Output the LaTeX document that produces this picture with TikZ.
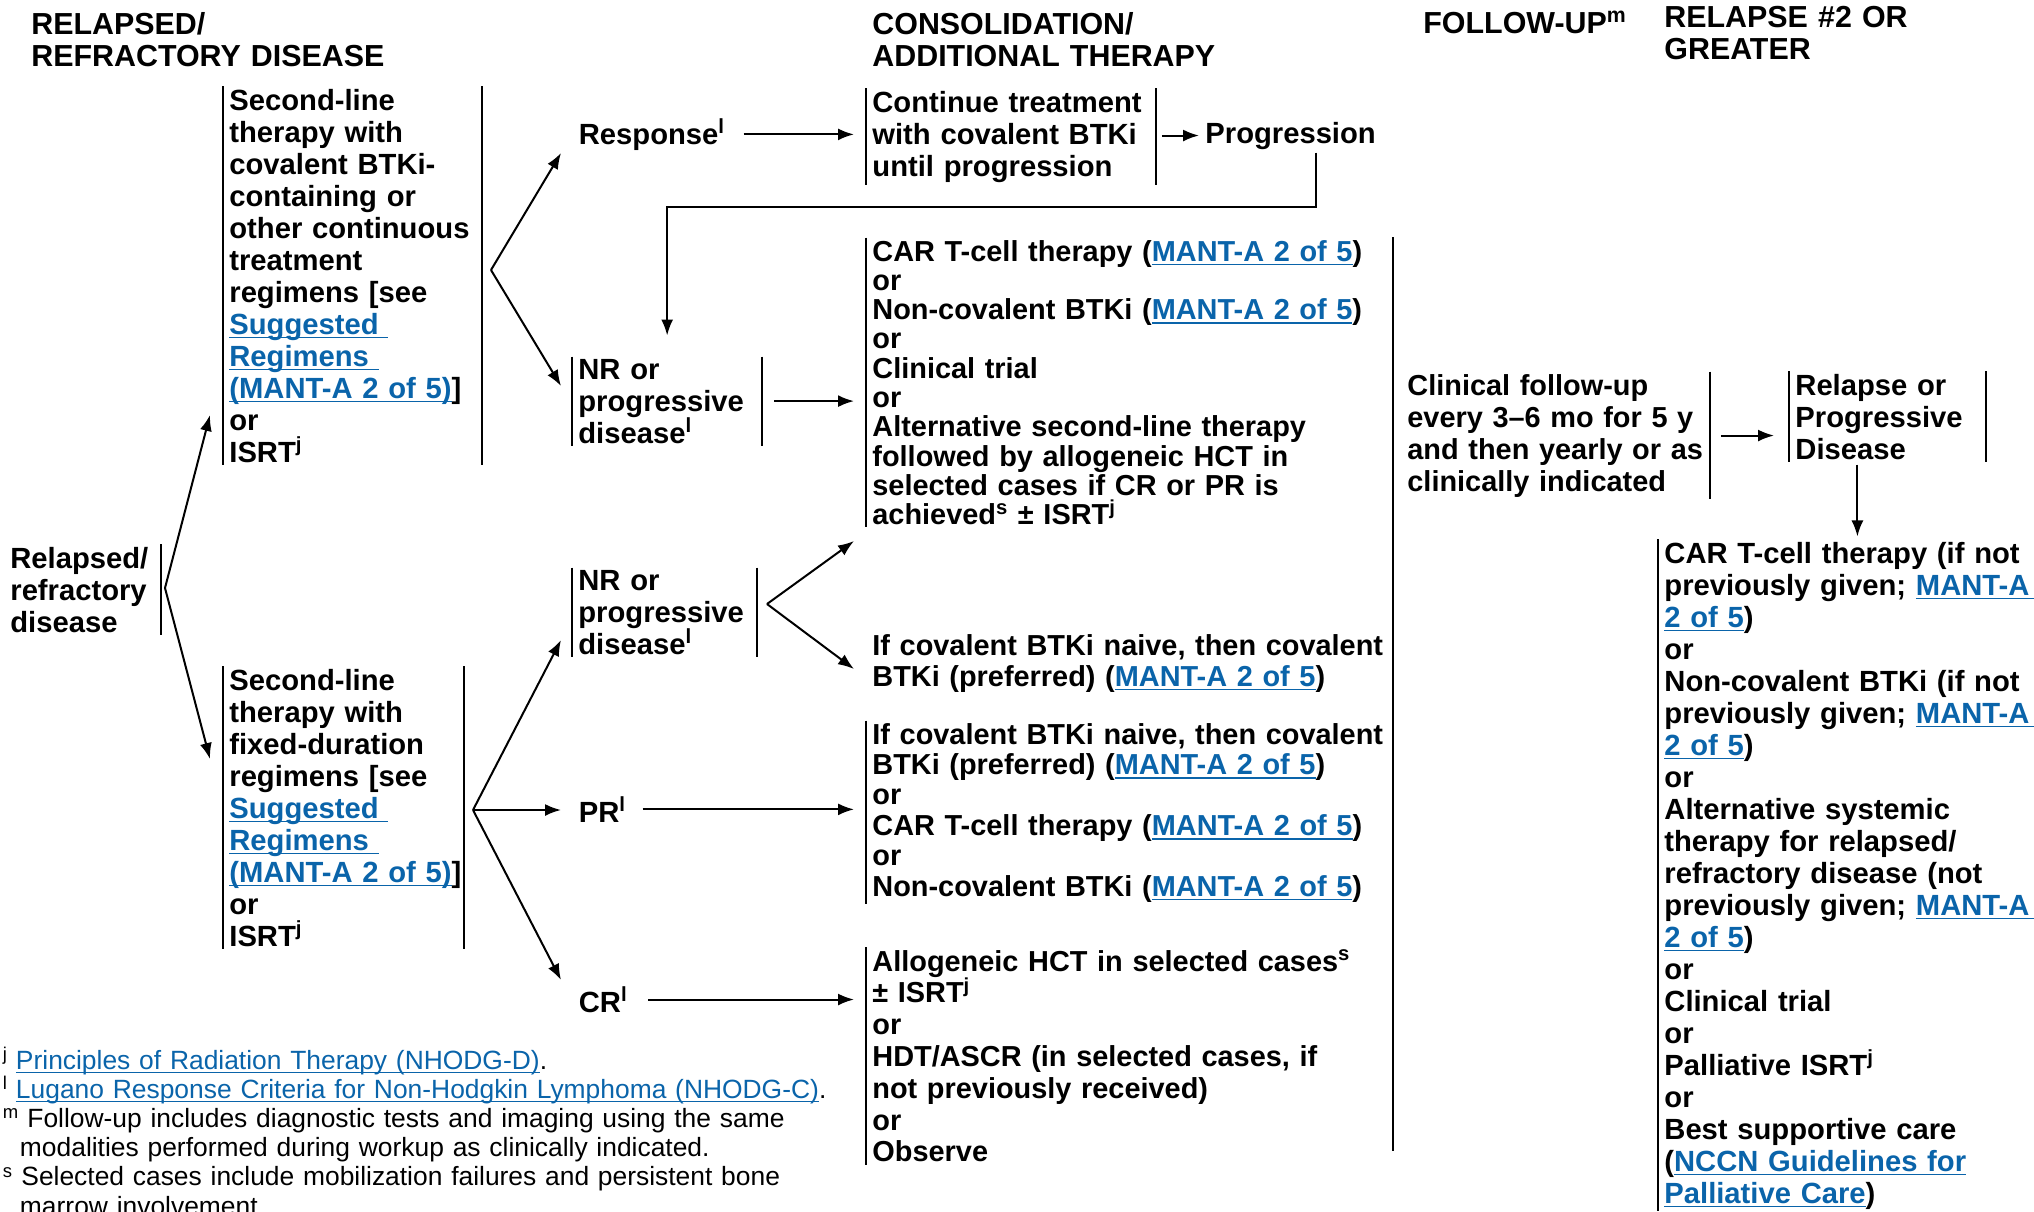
\documentclass[tikz,border=0pt]{standalone}
\usepackage{fontspec}
\setmainfont{Liberation Sans}
\usetikzlibrary{arrows.meta,calc}
\definecolor{linkblue}{RGB}{10,100,170}
\newcommand{\lnk}[1]{\leavevmode{\color{linkblue}\setbox0\hbox{#1}\rlap{\rule[-2.2pt]{\wd0}{0.8pt}}\box0}}
\newcommand{\fnlnk}[1]{\leavevmode{\color{linkblue}\setbox0\hbox{#1}\rlap{\rule[-2pt]{\wd0}{0.6pt}}\box0}}
\newcommand{\sups}[1]{\textsuperscript{#1}}

\begin{document}
\begin{tikzpicture}[x=0.5pt,y=-0.5pt,
    hd/.style={inner sep=0,anchor=base west,align=left,text width=250pt,font=\bfseries\fontsize{15.2pt}{16pt}\selectfont},
    bx/.style={inner xsep=3pt,inner ysep=1pt,anchor=base west,align=left,font=\bfseries\fontsize{14.6pt}{#1}\selectfont},
    bx/.default=16pt,
    cx/.style={inner xsep=3pt,inner ysep=1pt,anchor=base west,align=left,font=\bfseries\fontsize{14.45pt}{#1}\selectfont},
    lb/.style={inner sep=0,anchor=base west,font=\bfseries\fontsize{14.6pt}{16pt}\selectfont},
    fn/.style={inner sep=0,anchor=base west,align=left,text width=420pt,font=\fontsize{13.2pt}{14.6pt}\selectfont},
    bar/.style={line width=1pt},
    arr/.style={line width=1pt,-{Latex[length=8pt,width=6pt]}}]
    \useasboundingbox(0,0)rectangle(2034,1211);
    \node[hd](hrel)at(31,34){RELAPSED/\\REFRACTORY DISEASE};
    \node[hd](hcons)at(872,34){CONSOLIDATION/\\ADDITIONAL THERAPY};
    \node[hd](hfu)at(1423,33){FOLLOW-UP\sups{m}};
    \node[hd](hrel2)at(1664,27){RELAPSE \#2 OR\\GREATER};
    \node[bx,text width=72pt](rel)at(4,568){Relapsed/\\refractory\\disease};
    \node[bx,text width=123pt](cont1)at(223,110){Second-line\\therapy with\\covalent BTKi-\\containing or\\other continuous\\treatment\\regimens [see\\\lnk{Suggested\ }\\\lnk{Regimens\ }\\\lnk{(MANT-A 2 of 5)}]\\or\\ISRT\sups{j}};
    \node[bx,text width=114pt](fixd)at(223,690){Second-line\\therapy with\\fixed-duration\\regimens [see\\\lnk{Suggested\ }\\\lnk{Regimens\ }\\\lnk{(MANT-A 2 of 5)}]\\or\\ISRT\sups{j}};
    \node[lb](resp)at(578.5,144){Response\sups{l}};
    \node[bx,text width=138.5pt](cont)at(866,112){Continue treatment\\with covalent BTKi\\until progression};
    \node[lb](prog)at(1205,143){Progression};
    \node[bx,text width=88.75pt](nr1)at(572,379){NR or\\progressive\\disease\sups{l}};
    \node[bx,text width=86pt](nr2)at(572,590){NR or\\progressive\\disease\sups{l}};
    \node[cx=14.65pt,text width=260pt](car)at(866,261){CAR T-cell therapy (\lnk{MANT-A 2 of 5})\\or\\Non-covalent BTKi (\lnk{MANT-A 2 of 5})\\or\\Clinical trial\\or\\Alternative second-line therapy\\followed by allogeneic HCT in\\selected cases if CR or PR is\\achieved\sups{s} ± ISRT\sups{j}};
    \node[cx=15.5pt,text width=262pt](cov)at(866,655){If covalent BTKi naive, then covalent\\BTKi (preferred) (\lnk{MANT-A 2 of 5})};
    \node[lb](pr)at(578.5,822){PR\sups{l}};
    \node[cx=15.2pt,text width=262pt](prbox)at(866,744){If covalent BTKi naive, then covalent\\BTKi (preferred) (\lnk{MANT-A 2 of 5})\\or\\CAR T-cell therapy (\lnk{MANT-A 2 of 5})\\or\\Non-covalent BTKi (\lnk{MANT-A 2 of 5})};
    \node[lb](cr)at(578.5,1012){CR\sups{l}};
    \node[cx=15.9pt,text width=260pt](crbox)at(866,971){Allogeneic HCT in selected cases\sups{s}\\± ISRT\sups{j}\\or\\HDT/ASCR (in selected cases, if\\not previously received)\\or\\Observe};
    \node[cx=16pt,text width=148pt](fu)at(1401,395){Clinical follow-up\\every 3--6 mo for 5 y\\and then yearly or as\\clinically indicated};
    \node[bx,text width=92pt](rpd)at(1789,395){Relapse or\\Progressive\\Disease};
    \node[bx,text width=190pt](r2)at(1658,563){CAR T-cell therapy (if not\\previously given; \lnk{MANT-A\ }\\\lnk{2 of 5})\\or\\Non-covalent BTKi (if not\\previously given; \lnk{MANT-A\ }\\\lnk{2 of 5})\\or\\Alternative systemic\\therapy for relapsed/\\refractory disease (not\\previously given; \lnk{MANT-A\ }\\\lnk{2 of 5})\\or\\Clinical trial\\or\\Palliative ISRT\sups{j}\\or\\Best supportive care\\(\lnk{NCCN Guidelines for}\\\lnk{Palliative Care})};
    \node[fn](notes)at(2.6,1069){\makebox[6.5pt][l]{\sups{j}}\fnlnk{Principles of Radiation Therapy (NHODG-D)}.\\\makebox[6.5pt][l]{\sups{l}}\fnlnk{Lugano Response Criteria for Non-Hodgkin Lymphoma (NHODG-C)}.\\\makebox[12.2pt][l]{\sups{m}}Follow-up includes diagnostic tests and imaging using the same\\\hspace*{8.5pt}modalities performed during workup as clinically indicated.\\\makebox[9.2pt][l]{\sups{s}}Selected cases include mobilization failures and persistent bone\\\hspace*{8.5pt}marrow involvement.};
    \foreach \n in {cont1,fixd,cont,nr1,nr2,rpd}{\draw[bar](\n.north west)--(\n.south west)(\n.north east)--(\n.south east);}
    \foreach \n in {car,prbox,crbox,r2}{\draw[bar](\n.north west)--(\n.south west);}
    \foreach \n in {rel,fu}{\draw[bar](\n.north east)--(\n.south east);}
    \draw[bar](1393,237)--(1393,1151);
    \coordinate(s0)at(165,588);
    \coordinate(a0)at(210,415);
    \coordinate(b0)at(210,759);
    \coordinate(s1)at(491,270);
    \coordinate(a1)at(561,153);
    \coordinate(b1)at(561,386);
    \coordinate(s2)at(473,810);
    \coordinate(a2)at(561,640);
    \coordinate(c2)at(561,980);
    \coordinate(s3)at(767,604);
    \coordinate(a3)at(854,541);
    \coordinate(b3)at(854,669);
    \coordinate(pk)at(1316,207);
    \draw[arr](s0)--(a0);
    \draw[arr](s0)--(b0);
    \draw[arr](s1)--(a1);
    \draw[arr](s1)--(b1);
    \draw[arr](s2)--(a2);
    \draw[arr](s2)--(s2-|a2);
    \draw[arr](s2)--(c2);
    \draw[arr](s3)--(a3);
    \draw[arr](s3)--(b3);
    \draw[arr,shorten <=9pt,shorten >=6pt](resp.east)--(resp.east-|cont.west);
    \draw[arr,shorten <=3pt,shorten >=3pt](prog.west-|cont.east)--(prog.west);
    \draw[arr,shorten <=1.5pt,shorten >=10.5pt](prog.south-|pk)--(pk)-|(nr1.north);
    \draw[arr,shorten <=6pt,shorten >=6pt](nr1.east)--(nr1.east-|car.west);
    \draw[arr,shorten <=8pt,shorten >=6pt](pr.east)--(pr.east-|prbox.west);
    \draw[arr,shorten <=10pt,shorten >=6pt](cr.east)--(cr.east-|crbox.west);
    \draw[arr,shorten <=5.5pt,shorten >=7.5pt](fu.east)--(fu.east-|rpd.west);
    \draw[arr,shorten <=1.5pt,shorten >=1.5pt]([xshift=-15pt]rpd.south)--([xshift=-15pt]rpd.south|-r2.north);
\end{tikzpicture}
\end{document}
